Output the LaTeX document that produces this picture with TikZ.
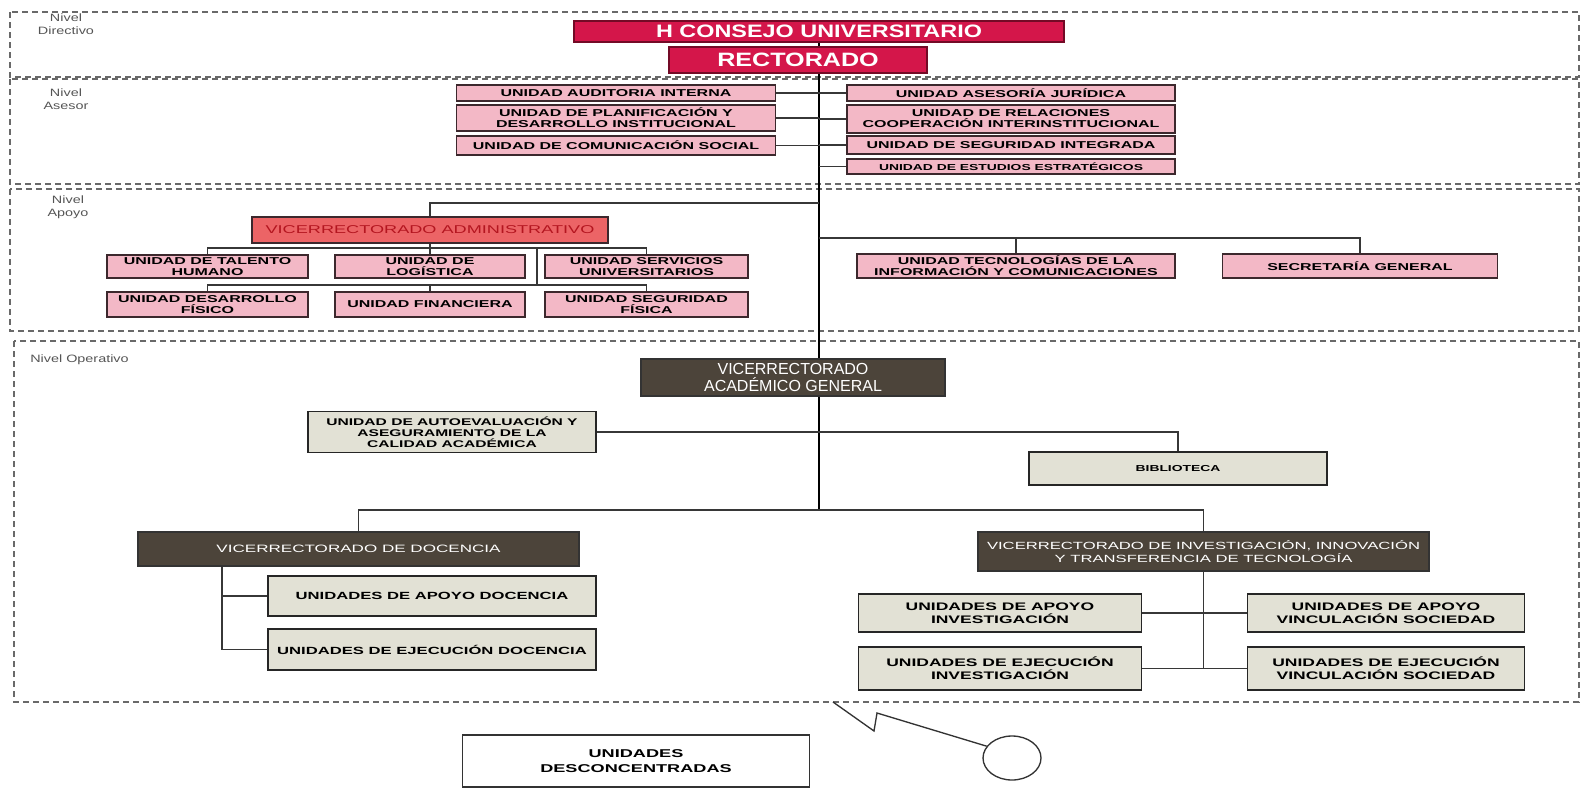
\documentclass[tikz,border=0pt]{standalone}
\usepackage{fontspec}
\setmainfont{Liberation Sans}
\newfontfamily\widefont[FakeStretch=1.6]{Liberation Sans}
\newfontfamily\midfont[FakeStretch=1.3]{Liberation Sans}
\newfontfamily\labfont[FakeStretch=1.35]{Liberation Sans}
\usepackage{tikz}
\usetikzlibrary{shapes.geometric}
\definecolor{crimson}{RGB}{212,22,74}
\definecolor{crimsonln}{RGB}{115,10,38}
\definecolor{pinkf}{RGB}{243,184,198}
\definecolor{boxln}{RGB}{60,40,45}
\definecolor{salmonf}{RGB}{236,100,102}
\definecolor{admtxt}{RGB}{180,22,32}
\definecolor{brownf}{RGB}{76,68,58}
\definecolor{grayf}{RGB}{226,225,213}
\definecolor{framec}{RGB}{105,105,105}
\definecolor{connc}{RGB}{55,55,55}
\definecolor{labc}{RGB}{85,85,85}

\begin{document}
\begin{tikzpicture}[x=0.75pt,y=0.75pt,yscale=-1,xscale=1,
  sz/.style 2 args={minimum width=#1*0.75pt,minimum height=#2*0.75pt},
  lvl/.style={draw=framec,line width=1pt,dash pattern=on 4.5pt off 3pt},
  lab/.style={text=labc,align=center,inner sep=0pt,font=\labfont\fontsize{8}{9.5}\selectfont},
  topbox/.style={draw=crimsonln,fill=crimson,line width=1.2pt,text=white,inner sep=0pt},
  pinkbox/.style={draw=boxln,fill=pinkf,line width=1.1pt,align=center,inner sep=0pt,font=\widefont\bfseries\fontsize{7.5}{8.2}\selectfont},
  admbox/.style={draw=boxln,fill=salmonf,line width=1.4pt,text=admtxt,inner sep=0pt,font=\widefont\fontsize{8.5}{9}\selectfont},
  darkbox/.style={draw=black!80,fill=brownf,line width=1.2pt,text=white,align=center,inner sep=0pt},
  graybox/.style={draw=black!85,fill=grayf,line width=1.3pt,align=center,inner sep=0pt,font=\widefont\bfseries\fontsize{7.8}{9}\selectfont},
  descbox/.style={draw=black!80,fill=white,line width=1.1pt,align=center,inner sep=0pt,font=\widefont\bfseries\fontsize{8.5}{11}\selectfont},
  conn/.style={draw=connc,line width=1.2pt},
  mainln/.style={draw=black,line width=2.2pt},
  callln/.style={draw=black!80,line width=1pt,line join=miter}]
\useasboundingbox (0,0) rectangle (1584,789);

% niveles
\draw [lvl] (10,12) rectangle (1579,77);
\draw [lvl] (10,79) rectangle (1579,184);
\draw [lvl] (10,189) rectangle (1579,331);
\draw [lvl] (14,341) rectangle (1579,702);
\draw (66,24) node [lab] (nvdir) {Nivel\\Directivo};
\draw (66,99) node [lab] (nvase) {Nivel\\Asesor};
\draw (68,207) node [lab] (nvapo) {Nivel\\Apoyo};
\draw (30,360) node [lab,anchor=west] (nvope) {Nivel Operativo};

% directivo
\draw (819,31.5) node [topbox,sz={490}{21},font=\midfont\bfseries\fontsize{13.5}{14}\selectfont] (consejo) {H CONSEJO UNIVERSITARIO};
\draw (798,60) node [topbox,sz={258}{26},font=\midfont\bfseries\fontsize{14.5}{15}\selectfont] (rector) {RECTORADO};

% asesor
\draw (616,93) node [pinkbox,sz={319}{16}] (audit) {UNIDAD AUDITORIA INTERNA};
\draw (616,118) node [pinkbox,sz={319}{26}] (planif) {UNIDAD DE PLANIFICACIÓN Y\\DESARROLLO INSTITUCIONAL};
\draw (616,145.5) node [pinkbox,sz={319}{19}] (comsoc) {UNIDAD DE COMUNICACIÓN SOCIAL};
\draw (1011,93) node [pinkbox,sz={328}{16}] (jurid) {UNIDAD ASESORÍA JURÍDICA};
\draw (1011,119) node [pinkbox,sz={328}{28}] (relac) {UNIDAD DE RELACIONES\\COOPERACIÓN INTERINSTITUCIONAL};
\draw (1011,145) node [pinkbox,sz={328}{18}] (segint) {UNIDAD DE SEGURIDAD INTEGRADA};
\draw (1011,166.5) node [pinkbox,sz={328}{15},font=\widefont\bfseries\fontsize{6.5}{7}\selectfont] (estud) {UNIDAD DE ESTUDIOS ESTRATÉGICOS};

% apoyo
\draw (430,230) node [admbox,sz={356}{26}] (vradm) {VICERRECTORADO ADMINISTRATIVO};
\draw (207.5,266.5) node [pinkbox,sz={201}{23}] (talento) {UNIDAD DE TALENTO\\HUMANO};
\draw (430,266.5) node [pinkbox,sz={190}{23}] (logis) {UNIDAD DE\\LOGÍSTICA};
\draw (646.5,266.5) node [pinkbox,sz={203}{23}] (servic) {UNIDAD SERVICIOS\\UNIVERSITARIOS};
\draw (207.5,304.5) node [pinkbox,sz={201}{25}] (desfis) {UNIDAD DESARROLLO\\FÍSICO};
\draw (430,304.5) node [pinkbox,sz={190}{25}] (financ) {UNIDAD FINANCIERA};
\draw (646.5,304.5) node [pinkbox,sz={203}{25}] (segfis) {UNIDAD SEGURIDAD\\FÍSICA};
\draw (1016,266) node [pinkbox,sz={318}{24}] (tic) {UNIDAD TECNOLOGÍAS DE LA\\INFORMACIÓN Y COMUNICACIONES};
\draw (1360,266) node [pinkbox,sz={275}{24}] (secre) {SECRETARÍA GENERAL};

% operativo
\draw (793,377.5) node [darkbox,sz={304}{37},font=\fontsize{12}{13}\selectfont] (vracad) {VICERRECTORADO\\ACADÉMICO GENERAL};
\draw (452,432) node [graybox,sz={288}{41},font=\widefont\bfseries\fontsize{7.3}{8.2}\selectfont] (autoev) {UNIDAD DE AUTOEVALUACIÓN Y\\ASEGURAMIENTO DE LA\\CALIDAD ACADÉMICA};
\draw (1178,468.5) node [graybox,sz={298}{33},font=\widefont\bfseries\fontsize{6.5}{7}\selectfont] (biblio) {BIBLIOTECA};
\draw (358.5,549) node [darkbox,sz={441}{34},font=\widefont\fontsize{8}{9}\selectfont] (vrdoc) {VICERRECTORADO DE DOCENCIA};
\draw (1203.5,551.5) node [darkbox,sz={451}{39},font=\widefont\fontsize{7.8}{10}\selectfont] (vrinv) {VICERRECTORADO DE INVESTIGACIÓN, INNOVACIÓN\\Y TRANSFERENCIA DE TECNOLOGÍA};
\draw (432,596) node [graybox,sz={328}{40}] (apdoc) {UNIDADES DE APOYO DOCENCIA};
\draw (432,649.5) node [graybox,sz={328}{41}] (ejdoc) {UNIDADES DE EJECUCIÓN DOCENCIA};
\draw (1000,613) node [graybox,sz={283}{38},font=\widefont\bfseries\fontsize{8.2}{10}\selectfont] (apinv) {UNIDADES DE APOYO\\INVESTIGACIÓN};
\draw (1386,613) node [graybox,sz={277}{38},font=\widefont\bfseries\fontsize{8.2}{10}\selectfont] (apvin) {UNIDADES DE APOYO\\VINCULACIÓN SOCIEDAD};
\draw (1000,668.5) node [graybox,sz={283}{43},font=\widefont\bfseries\fontsize{8.2}{10}\selectfont] (ejinv) {UNIDADES DE EJECUCIÓN\\INVESTIGACIÓN};
\draw (1386,668.5) node [graybox,sz={277}{43},font=\widefont\bfseries\fontsize{8.2}{10}\selectfont] (ejvin) {UNIDADES DE EJECUCIÓN\\VINCULACIÓN SOCIEDAD};

% desconcentradas
\draw (636,761) node [descbox,sz={347}{52}] (descon) {UNIDADES\\DESCONCENTRADAS};
\draw (1012,758) node [draw=black!80,fill=white,line width=1pt,ellipse,inner sep=0pt,sz={58}{44}] (circ) {};

% lineas
\coordinate (busD) at (819,510);
\coordinate (jadm) at (819,203);
\coordinate (jtic) at (819,238);
\coordinate (bus1) at (537,248);
\coordinate (bus2) at (537,285);
\coordinate (dtr) at (222,560);
\coordinate (tip) at (833,702);
\draw [mainln] (consejo.south) -- (consejo.south |- rector.north);
\draw [mainln] (consejo.south |- rector.south) -- (consejo.south |- vracad.north);
\draw [mainln] (consejo.south |- vracad.south) -- (busD);
\draw [conn] (audit.east) -- (audit.east -| consejo.south);
\draw [conn] (planif.east) -- (planif.east -| consejo.south);
\draw [conn] (comsoc.east) -- (comsoc.east -| consejo.south);
\draw [conn] (jurid.west) -- (jurid.west -| consejo.south);
\draw [conn] (relac.west) -- (relac.west -| consejo.south);
\draw [conn] (segint.west) -- (segint.west -| consejo.south);
\draw [conn] (estud.west) -- (estud.west -| consejo.south);
\draw [conn] (jadm) -| (vradm.north);
\draw [conn] (jtic) -| (secre.north);
\draw [conn] (tic.north |- jtic) -- (tic.north);
\draw [conn] (vradm.south) -- (logis.north);
\draw [conn] (talento.north) |- (bus1) -| (servic.north);
\draw [conn] (bus1) -- (bus2);
\draw [conn] (desfis.north) |- (bus2) -| (segfis.north);
\draw [conn] (financ.north) -- (financ.north |- bus2);
\draw [conn] (autoev.east) -| (biblio.north);
\draw [conn] (vrdoc.north) |- (busD) -| (vrinv.north);
\draw [conn] (dtr |- vrdoc.south) |- (apdoc.west);
\draw [conn] (dtr |- vrdoc.south) |- (ejdoc.west);
\draw [conn] (vrinv.south) -- (vrinv.south |- ejinv.east);
\draw [conn] (apinv.east) -- (apvin.west);
\draw [conn] (ejinv.east) -- (ejvin.west);
\draw [callln] (circ.155) -- (877,713) -- (874,731) -- (tip);
\end{tikzpicture}
\end{document}
